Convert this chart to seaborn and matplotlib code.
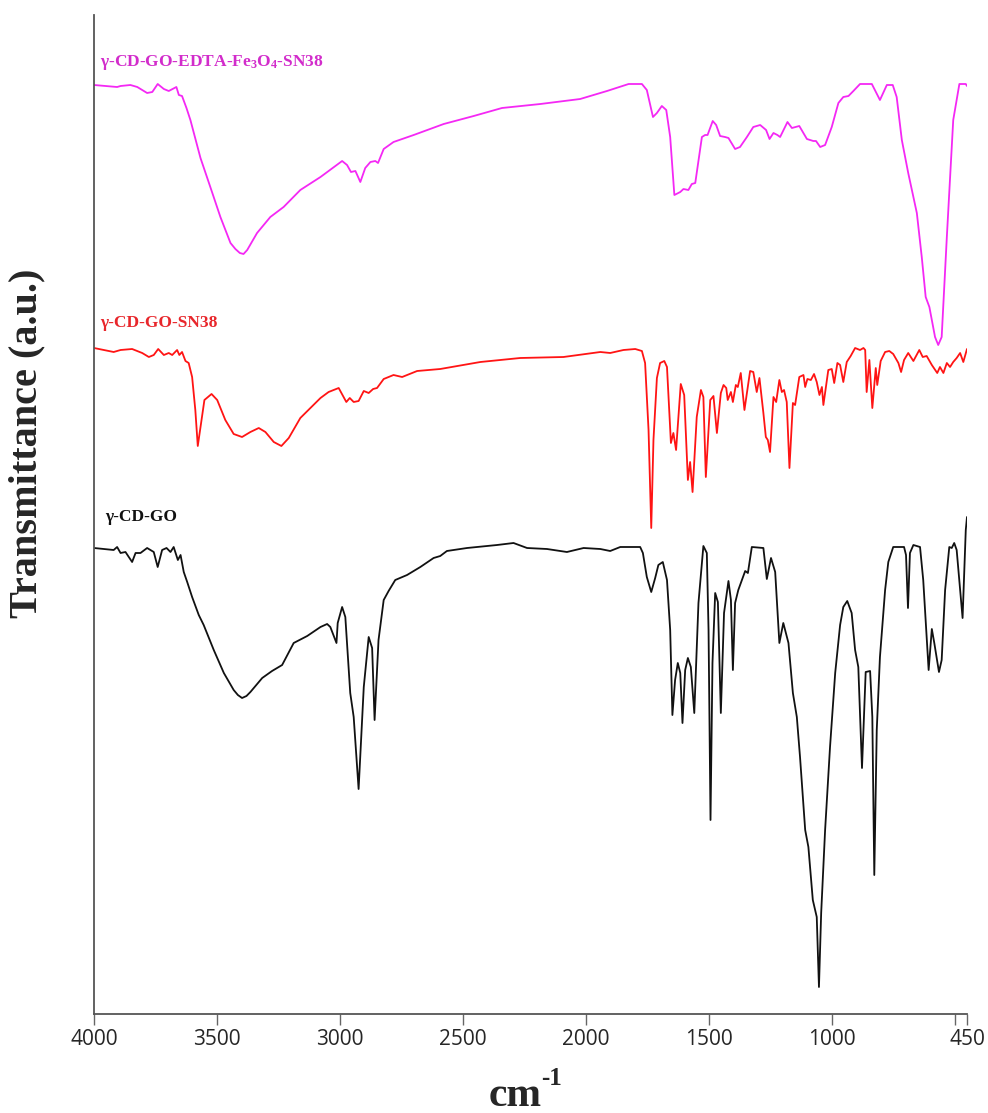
import matplotlib
matplotlib.use("Agg")
import matplotlib.pyplot as plt
import seaborn as sns
import pandas as pd

# FT-IR spectra, wavenumber (cm^-1) vs transmittance (a.u., curves stacked with offsets)
wn_fe = [4000, 3906, 3892, 3852, 3824, 3784, 3763, 3741, 3716, 3696, 3665, 3655, 3642, 3624,
         3608, 3567, 3527, 3486, 3445, 3425, 3407, 3392, 3377, 3337, 3283, 3229, 3161, 3079,
         2991, 2971, 2955, 2937, 2917, 2897, 2876, 2856, 2845, 2822, 2782, 2700, 2578, 2456,
         2341, 2185, 2023, 1914, 1826, 1772, 1752, 1727, 1711, 1691, 1673, 1657, 1640, 1616,
         1603, 1583, 1569, 1555, 1528, 1515, 1505, 1484, 1470, 1454, 1434, 1420, 1393, 1373,
         1345, 1319, 1291, 1267, 1253, 1237, 1221, 1210, 1180, 1162, 1132, 1101, 1075, 1064,
         1047, 1027, 1000, 973, 953, 932, 912, 885, 837, 804, 776, 752, 736, 715, 689, 654,
         634, 618, 603, 580, 567, 553, 532, 506, 481, 455, 450]
t_fe = [92.9, 92.7, 92.8, 92.9, 92.7, 92.1, 92.2, 93.0, 92.5, 92.3, 92.7, 91.9, 91.8, 90.6,
        89.4, 85.6, 82.7, 79.7, 77.1, 76.5, 76.1, 76.0, 76.4, 78.1, 79.7, 80.7, 82.4, 83.7,
        85.3, 84.9, 84.2, 84.3, 83.2, 84.6, 85.2, 85.3, 85.1, 86.5, 87.2, 87.9, 89.0, 89.8,
        90.6, 91.0, 91.5, 92.3, 93.0, 93.0, 92.4, 89.7, 90.1, 90.8, 90.4, 87.7, 81.9, 82.2,
        82.5, 82.4, 83.0, 83.1, 87.7, 87.9, 87.9, 89.3, 88.9, 87.8, 87.7, 87.6, 86.5, 86.7,
        87.7, 88.7, 88.9, 88.4, 87.5, 88.1, 87.9, 87.7, 89.2, 88.6, 88.8, 87.5, 87.3, 87.3,
        86.7, 86.9, 88.7, 91.1, 91.7, 91.8, 92.3, 93.0, 93.0, 91.4, 92.9, 92.9, 91.7, 87.4,
        84.1, 80.1, 75.7, 71.7, 70.7, 67.7, 66.9, 67.7, 77.7, 89.4, 93.0, 93.0, 92.8]

wn_sn = [4000, 3920, 3892, 3845, 3804, 3777, 3757, 3739, 3716, 3696, 3682, 3662, 3653, 3642,
         3628, 3615, 3601, 3588, 3578, 3567, 3551, 3522, 3499, 3466, 3432, 3398, 3364, 3330,
         3303, 3269, 3238, 3208, 3161, 3120, 3079, 3046, 3005, 2985, 2974, 2960, 2944, 2924,
         2903, 2883, 2865, 2849, 2822, 2782, 2747, 2686, 2592, 2429, 2267, 2091, 1941, 1901,
         1847, 1799, 1772, 1759, 1745, 1734, 1725, 1711, 1698, 1681, 1670, 1654, 1644, 1633,
         1614, 1600, 1585, 1576, 1566, 1549, 1532, 1522, 1512, 1494, 1481, 1467, 1451, 1440,
         1429, 1423, 1410, 1402, 1390, 1382, 1370, 1355, 1332, 1319, 1305, 1294, 1278, 1268,
         1260, 1251, 1237, 1226, 1213, 1203, 1194, 1183, 1172, 1158, 1149, 1132, 1115, 1108,
         1099, 1085, 1072, 1061, 1050, 1040, 1034, 1014, 1000, 990, 977, 966, 953, 939, 923,
         905, 885, 871, 864, 858, 847, 835, 821, 815, 801, 783, 766, 750, 729, 718, 706, 689,
         668, 644, 630, 614, 593, 571, 560, 546, 532, 519, 506, 492, 478, 465, 450]
t_sn = [66.6, 66.2, 66.4, 66.5, 66.1, 65.7, 65.9, 66.5, 65.9, 66.1, 65.9, 66.4, 65.9, 66.2,
        65.3, 65.1, 63.7, 60.4, 56.8, 58.7, 61.4, 62.0, 61.4, 59.4, 58.0, 57.7, 58.2, 58.6,
        58.2, 57.2, 56.8, 57.6, 59.6, 60.6, 61.6, 62.2, 62.6, 61.7, 61.2, 61.6, 61.2, 61.3,
        62.3, 62.1, 62.5, 62.6, 63.5, 63.9, 63.7, 64.3, 64.5, 65.2, 65.6, 65.7, 66.2, 66.1,
        66.4, 66.5, 66.3, 65.1, 58.4, 48.6, 57.4, 63.6, 65.1, 65.3, 64.7, 57.1, 58.1, 56.4,
        63.0, 61.9, 53.4, 55.2, 52.2, 59.7, 62.4, 61.7, 53.7, 61.4, 61.8, 58.1, 62.1, 62.9,
        62.6, 61.4, 62.2, 61.2, 62.9, 62.7, 64.1, 60.4, 64.3, 64.2, 62.2, 63.6, 60.1, 57.7,
        57.4, 56.2, 61.7, 61.2, 63.4, 62.2, 62.4, 61.2, 54.6, 61.1, 60.9, 63.7, 63.9, 62.7,
        63.5, 63.4, 64.0, 63.2, 61.9, 62.7, 60.9, 64.4, 64.5, 63.1, 65.1, 64.9, 63.2, 65.2,
        65.8, 66.6, 66.4, 66.6, 66.4, 62.2, 65.4, 60.6, 64.6, 62.9, 65.3, 66.2, 66.3, 66.0,
        65.1, 64.2, 65.4, 66.1, 65.3, 66.4, 65.7, 65.8, 64.9, 64.1, 64.7, 64.1, 65.1, 64.7,
        65.2, 65.6, 66.1, 65.2, 66.5]

wn_go = [4000, 3920, 3906, 3892, 3872, 3845, 3831, 3811, 3784, 3757, 3741, 3723, 3705, 3689,
         3676, 3659, 3648, 3635, 3621, 3601, 3574, 3554, 3513, 3472, 3432, 3415, 3398, 3380,
         3364, 3316, 3276, 3235, 3188, 3133, 3079, 3052, 3039, 3014, 3009, 2991, 2978, 2958,
         2944, 2924, 2903, 2883, 2869, 2859, 2843, 2822, 2802, 2775, 2727, 2673, 2619, 2592,
         2565, 2483, 2361, 2294, 2239, 2158, 2077, 2009, 1941, 1901, 1860, 1779, 1768, 1752,
         1734, 1718, 1705, 1687, 1670, 1657, 1648, 1637, 1626, 1616, 1607, 1596, 1585, 1573,
         1559, 1542, 1522, 1508, 1501, 1493, 1485, 1474, 1463, 1451, 1438, 1420, 1410, 1402,
         1393, 1380, 1352, 1341, 1325, 1278, 1264, 1247, 1230, 1213, 1197, 1176, 1158, 1142,
         1129, 1108, 1095, 1077, 1061, 1052, 1043, 1027, 1007, 986, 966, 953, 937, 919, 905,
         892, 877, 862, 844, 835, 827, 817, 804, 783, 770, 750, 706, 698, 690, 682, 668, 641,
         628, 606, 593, 583, 564, 553, 539, 522, 512, 502, 492, 468, 455, 450]
t_go = [46.6, 46.4, 46.7, 46.1, 46.2, 45.2, 46.1, 46.1, 46.6, 46.2, 44.7, 46.4, 46.6, 46.2,
        46.7, 45.4, 45.9, 44.2, 43.2, 41.7, 39.9, 38.9, 36.4, 34.1, 32.4, 31.9, 31.6, 31.8,
        32.2, 33.6, 34.3, 34.9, 37.1, 37.8, 38.7, 39.0, 38.7, 37.1, 39.1, 40.7, 39.7, 32.1,
        29.7, 22.5, 32.7, 37.7, 36.6, 29.4, 37.4, 41.4, 42.3, 43.4, 43.9, 44.7, 45.6, 45.8,
        46.3, 46.6, 46.9, 47.1, 46.6, 46.5, 46.2, 46.6, 46.5, 46.3, 46.7, 46.7, 46.1, 43.7,
        42.2, 43.6, 44.9, 45.2, 43.4, 38.4, 29.9, 33.4, 35.1, 34.1, 29.1, 34.4, 35.6, 34.7,
        30.1, 41.1, 46.8, 46.1, 38.4, 19.4, 35.1, 42.1, 41.2, 30.1, 40.1, 43.3, 41.4, 34.4,
        41.1, 42.4, 44.3, 44.1, 46.7, 46.6, 43.5, 45.6, 44.2, 37.1, 39.1, 37.1, 32.1, 29.7,
        25.7, 18.4, 16.7, 11.4, 9.7, 2.7, 10.1, 18.4, 26.7, 34.1, 38.9, 40.7, 41.3, 40.1,
        36.4, 34.7, 24.6, 34.2, 34.3, 29.7, 13.9, 28.4, 35.7, 42.4, 45.2, 46.7, 46.7, 45.9,
        40.6, 46.1, 46.9, 46.7, 43.4, 34.4, 38.5, 37.1, 34.2, 35.4, 42.4, 46.7, 46.6, 47.1,
        46.4, 39.6, 48.4, 49.7]

names = ["γ-CD-GO-EDTA-Fe$_3$O$_4$-SN38", "γ-CD-GO-SN38", "γ-CD-GO"]
line_colors = ["#F428F4", "#FF1414", "#111111"]
label_colors = ["#D22CCB", "#E8262B", "#111111"]
label_pos = [(3974, 95.2), (3974, 69.1), (3953, 49.7)]

tick_values = [4000, 3500, 3000, 2500, 2000, 1500, 1000, 500, 450]
tick_labels = ["4000", "3500", "3000", "2500", "2000", "1500", "1000", "", "450"]

sns.set_style("white")
plt.rcParams["mathtext.default"] = "regular"

fig = plt.figure(figsize=(9.88, 11.13), dpi=100)
ax = fig.add_axes([94 / 988, 99 / 1113, 873 / 988, 999 / 1113])

frames = [pd.DataFrame({"wn": w, "T": t}) for w, t in
          [(wn_fe, t_fe), (wn_sn, t_sn), (wn_go, t_go)]]
for df, col in zip(frames, line_colors):
    sns.lineplot(data=df, x="wn", y="T", ax=ax, color=col, lw=1.3,
                 sort=False, estimator=None)

serif = ["Liberation Serif", "DejaVu Serif"]
for name, col, (x, y) in zip(names, label_colors, label_pos):
    ax.text(x, y, name, color=col, fontsize=12.5, fontweight="bold",
            family=serif, ha="left", va="center")

ax.set_xlim(4000, 450)
ax.set_ylim(0, 99.9)
ax.set_xticks(tick_values)
ax.set_xticklabels(tick_labels, family=["Open Sans", "DejaVu Sans"], fontsize=15)
ax.set_yticks([])
ax.tick_params(axis="x", direction="out", length=8, width=1, color="#666666",
               pad=3, bottom=True)

for side in ["top", "right"]:
    ax.spines[side].set_visible(False)
for side in ["left", "bottom"]:
    ax.spines[side].set_color("#555555")
    ax.spines[side].set_linewidth(1.3)

ax.set_xlabel("")
ax.set_ylabel("")
fig.text(27 / 988, 1 - 443 / 1113, "Transmittance (a.u.)", rotation=90,
         ha="center", va="center", fontsize=29, fontweight="bold", family=serif)
# axis unit: "cm" with a raised "-1"
fig.text(489 / 988, 1 - 1106 / 1113, "cm", ha="left", va="baseline",
         fontsize=30, fontweight="bold", family=serif)
fig.text(541 / 988, 1 - 1085 / 1113, "-1", ha="left", va="baseline",
         fontsize=18, fontweight="bold", family=serif)

fig.savefig("out.png", dpi=100)
